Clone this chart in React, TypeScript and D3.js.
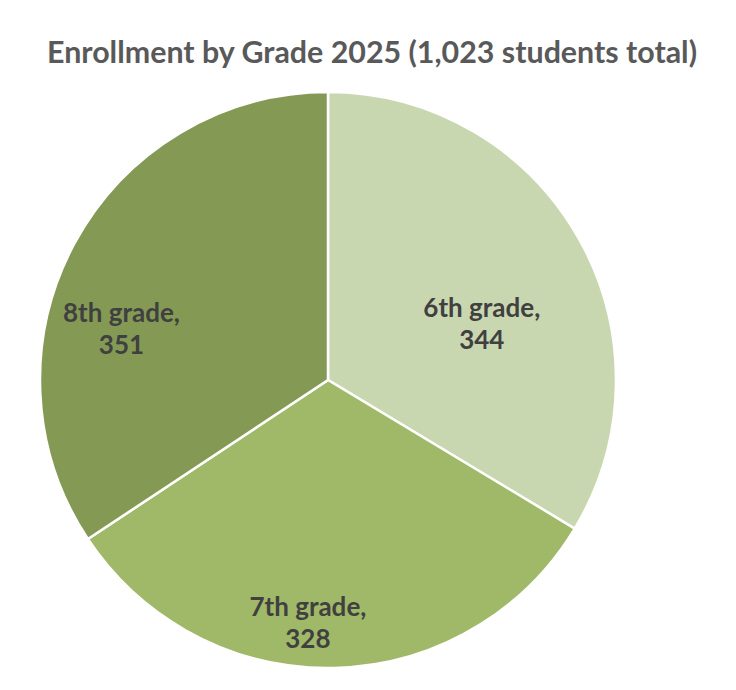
import React from "react";
import * as d3 from "d3";

const grades = ["6th grade", "7th grade", "8th grade"];
const students = [344, 328, 351];
const colors = ["#C9D7B0", "#A0B968", "#849A54"];

// label placement tweaks (fraction of radius, angle shift in degrees)
const labelPlace = [
  { r: 0.57, shift: 9 },
  { r: 0.84, shift: 6 },
  { r: 0.74, shift: -14 },
];

const W = 736;
const H = 690;
const cx = 328;
const cy = 380;
const radius = 288;

export default function App() {
  const data = grades.map((g, i) => ({ grade: g, value: students[i] }));
  const pie = d3.pie<{ grade: string; value: number }>().sort(null).value(d => d.value);
  const arcs = pie(data);
  const arc = d3.arc<d3.PieArcDatum<{ grade: string; value: number }>>()
    .innerRadius(0)
    .outerRadius(radius);
  const total = d3.sum(students);

  return (
    <svg width={W} height={H} style={{ position: "absolute", left: 0, top: 0 }}>
      <rect width={W} height={H} fill="#fff" />
      <text x={372} y={63} textAnchor="middle" fontFamily="Lato, 'Open Sans', sans-serif"
        fontWeight="bold" fontSize={30} fill="#595959" textLength={650} lengthAdjust="spacingAndGlyphs">
        {`Enrollment by Grade 2025 (${d3.format(",")(total)} students total)`}
      </text>
      <g transform={`translate(${cx},${cy})`}>
        {arcs.map((a, i) => (
          <path key={a.data.grade} d={arc(a) || ""} fill={colors[i]} stroke="#fff" strokeWidth={2.5} />
        ))}
        {arcs.map((a, i) => {
          const mid = (a.startAngle + a.endAngle) / 2 + (labelPlace[i].shift * Math.PI) / 180;
          const rr = radius * labelPlace[i].r;
          const x = rr * Math.sin(mid);
          const y = -rr * Math.cos(mid);
          return (
            <text key={"l" + i} x={x} y={y} textAnchor="middle" fontFamily="Lato, 'Open Sans', sans-serif"
              fontWeight="bold" fontSize={26} fill="#404040">
              <tspan x={x} dy="-0.2em">{a.data.grade},</tspan>
              <tspan x={x} dy="1.22em">{a.data.value}</tspan>
            </text>
          );
        })}
      </g>
    </svg>
  );
}
